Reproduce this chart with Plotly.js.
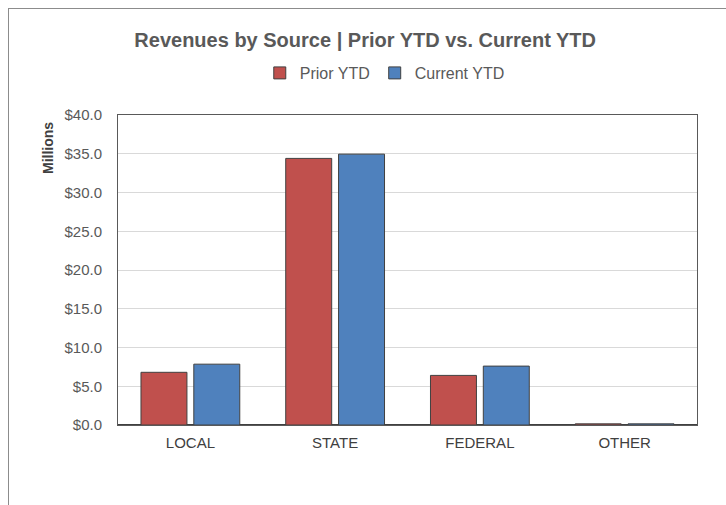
<!DOCTYPE html>
<html>
<head>
<meta charset="utf-8">
<script src="https://cdn.plot.ly/plotly-3.0.1.min.js"></script>
<style>
  html, body { margin: 0; padding: 0; background: #fff; }
  #wrap { position: relative; width: 726px; height: 505px; }
  #chart { width: 726px; height: 505px; }
  #frame { position: absolute; left: 8px; top: 8px; right: -2px; bottom: -2px;
           border-left: 1px solid #8c8c8c; border-top: 1px solid #8c8c8c; pointer-events: none; }
</style>
</head>
<body>
<div id="wrap">
  <div id="chart"></div>
  <div id="frame"></div>
</div>
<script>
const categories = ["LOCAL", "STATE", "FEDERAL", "OTHER"];
const priorYTD = [6.8, 34.4, 6.4, 0.15];
const currentYTD = [7.85, 34.95, 7.6, 0.15];
const seriesNames = ["Prior YTD", "Current YTD"];
const yTickVals = [0, 5, 10, 15, 20, 25, 30, 35, 40];

const outline = { color: "#404040", width: 1 };
const traces = [
  { type: "bar", name: seriesNames[0], x: categories, y: priorYTD,
    marker: { color: "#C0504D", line: outline }, hoverinfo: "x+y" },
  { type: "bar", name: seriesNames[1], x: categories, y: currentYTD,
    marker: { color: "#4F81BD", line: outline }, hoverinfo: "x+y" }
];

const layout = {
  width: 726, height: 505,
  margin: { l: 118, r: 29, t: 115, b: 80 },
  paper_bgcolor: "#fff", plot_bgcolor: "#fff",
  font: { family: "Liberation Sans, Arial, sans-serif", color: "#595959", size: 14 },
  title: {
    text: "<b>Revenues by Source | Prior YTD vs. Current YTD</b>",
    font: { size: 20, color: "#595959", family: "Liberation Sans, Arial, sans-serif" },
    xref: "container", x: 0.503, xanchor: "center",
    yref: "container", y: 1 - 40 / 505, yanchor: "middle"
  },
  showlegend: true,
  legend: {
    orientation: "h", xref: "container", yref: "container",
    x: 0.53, xanchor: "center", y: 1 - 73 / 505, yanchor: "middle",
    font: { size: 16, color: "#595959" }, traceorder: "normal",
    itemwidth: 30
  },
  barmode: "group", bargap: 0.27, bargroupgap: 0.13,
  xaxis: {
    type: "category", showline: true, mirror: true, linecolor: "#595959", linewidth: 1,
    ticks: "", tickfont: { size: 15, color: "#404040" }, showgrid: false,
    ticklabelstandoff: 4
  },
  yaxis: {
    range: [0, 40], tickvals: yTickVals, tickformat: "$.1f",
    showline: true, mirror: true, linecolor: "#595959", linewidth: 1,
    gridcolor: "#D9D9D9", gridwidth: 1,
    zeroline: true, zerolinecolor: "#404040", zerolinewidth: 2,
    ticks: "", ticklen: 0, tickfont: { size: 15, color: "#595959" },
    ticklabelstandoff: 12
  },
  annotations: [{
    text: "<b>Millions</b>", textangle: -90,
    xref: "paper", yref: "paper", x: -70 / 579, y: 1 - 33 / 310,
    xanchor: "center", yanchor: "middle", showarrow: false,
    font: { size: 14, color: "#404040" }
  }]
};

Plotly.newPlot("chart", traces, layout, { displayModeBar: false, staticPlot: true });
</script>
</body>
</html>
